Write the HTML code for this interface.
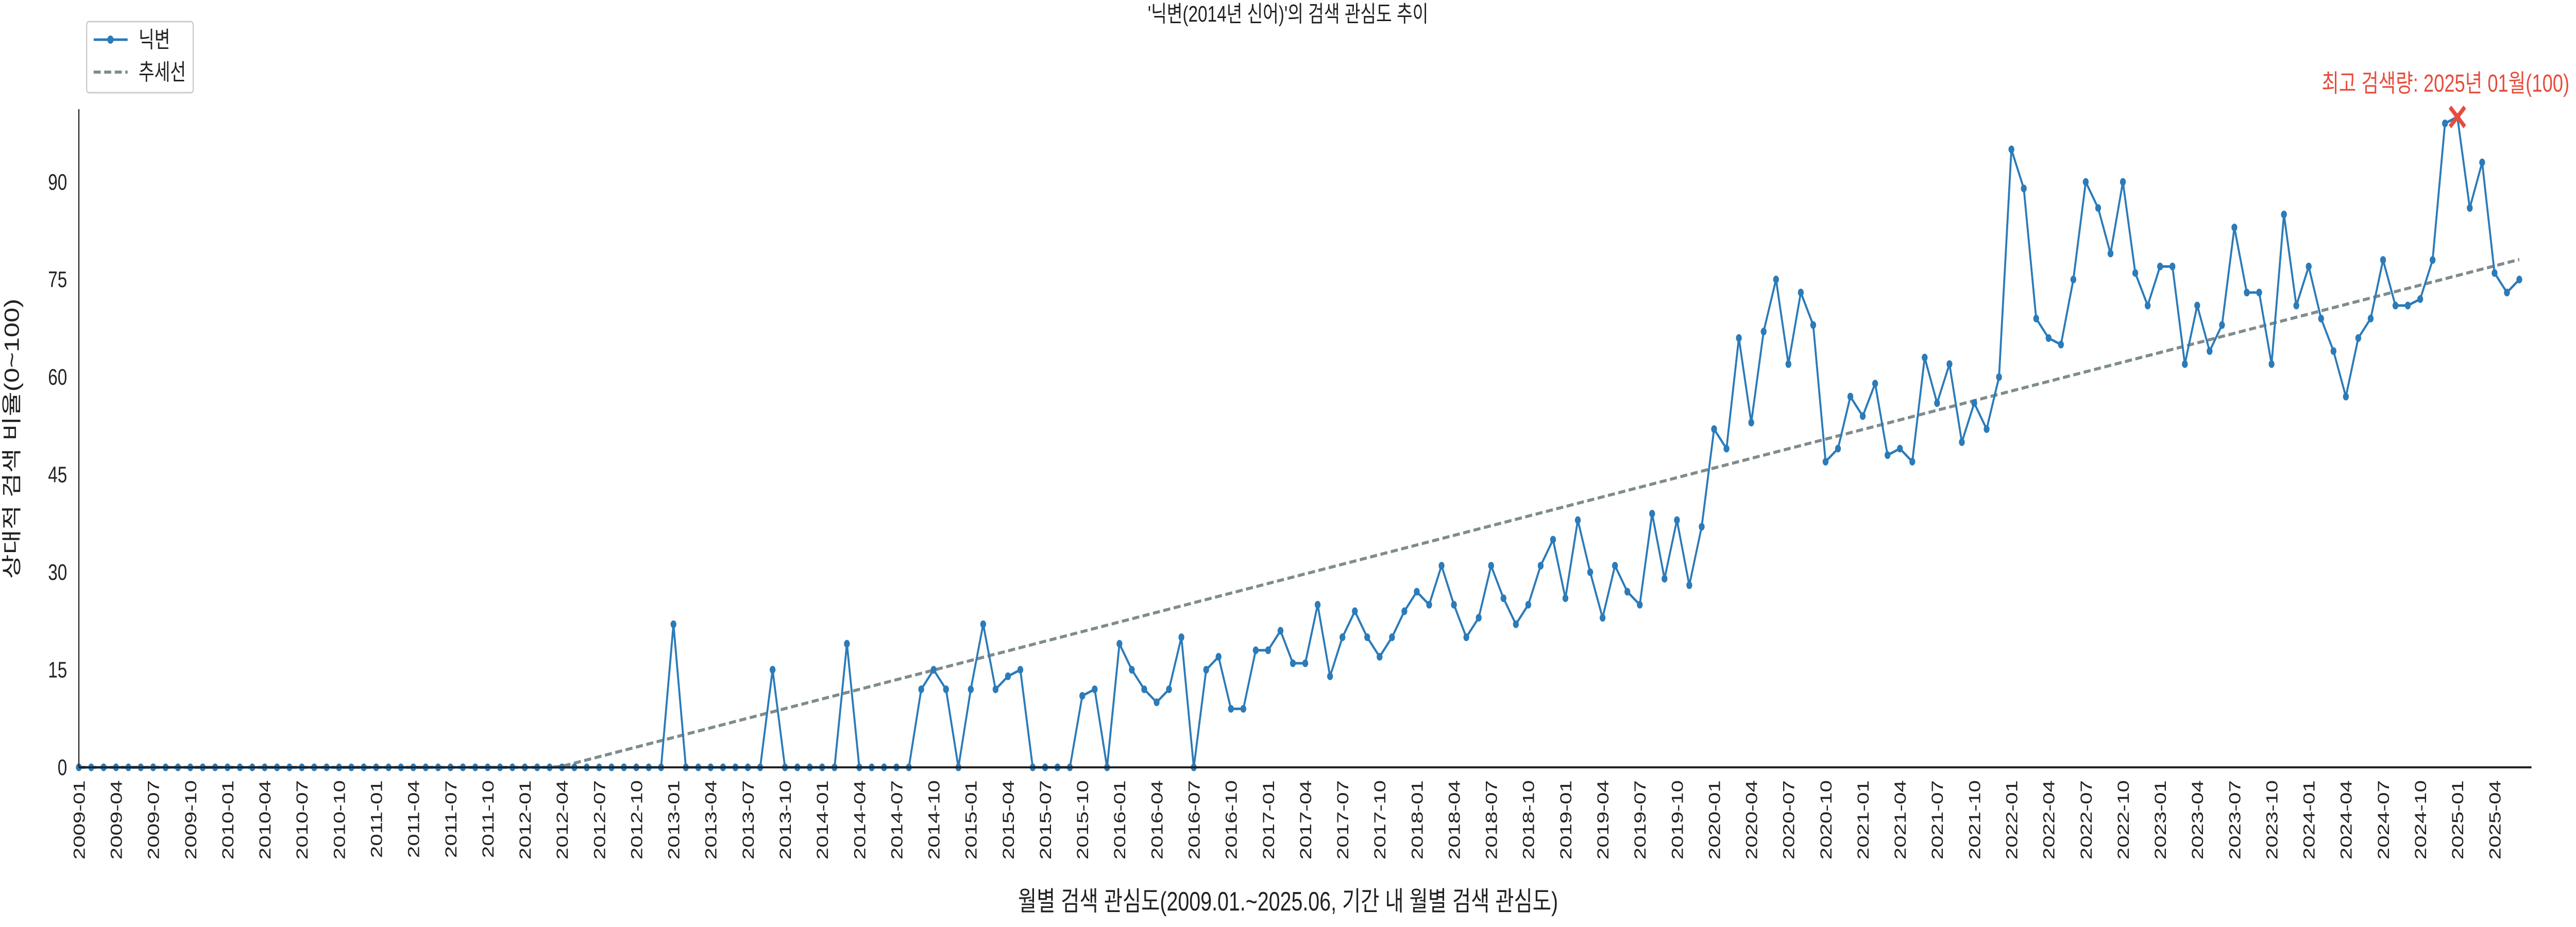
<!DOCTYPE html>
<html><head><meta charset="utf-8">
<style>
html,body{margin:0;padding:0;background:#fff;width:100%;height:100%;overflow:hidden;}
svg{display:block;width:100vw;height:100vh;font-family:"Liberation Sans","Noto Sans CJK KR",sans-serif;}
</style></head>
<body>
<svg id="chart" viewBox="0 0 6600 1800" preserveAspectRatio="none" xmlns="http://www.w3.org/2000/svg">
<text x="3300" y="42" text-anchor="middle" font-size="44" fill="#222">'닉변(2014년 신어)'의 검색 관심도 추이</text>
<g id="grid"></g>
<g id="trend"></g>
<g id="series"></g>
<g id="axes"></g>
<text x="3300" y="1768" text-anchor="middle" font-size="52" fill="#222">월별 검색 관심도(2009.01.~2025.06, 기간 내 월별 검색 관심도)</text>
<text transform="translate(48,852) rotate(-90)" text-anchor="middle" font-size="52" fill="#222">상대적 검색 비율(0~100)</text>
<g>
<rect x="222" y="42" width="273" height="138" rx="6" fill="#fff" stroke="#ccc" stroke-width="3"/>
<line x1="240" y1="77" x2="327" y2="77" stroke="#2b7bb9" stroke-width="5"/>
<circle cx="283" cy="77" r="8" fill="#2b7bb9"/>
<text x="355" y="92" font-size="44" fill="#222">닉변</text>
<line x1="240" y1="140" x2="327" y2="140" stroke="#7f8c8d" stroke-width="6" stroke-dasharray="18,9"/>
<text x="355" y="155" font-size="44" fill="#222">추세선</text>
</g>
<text x="6583" y="178" text-anchor="end" font-size="48" fill="#e74c3c">최고 검색량: 2025년 01월(100)</text>
</svg>
<script>
const startYear = 2009;
const values = [
0,0,0,0,0,0,0,0,0,0,0,0,
0,0,0,0,0,0,0,0,0,0,0,0,
0,0,0,0,0,0,0,0,0,0,0,0,
0,0,0,0,0,0,0,0,0,0,0,0,
22,0,0,0,0,0,0,0,15,0,0,0,
0,0,19,0,0,0,0,0,12,15,12,0,
12,22,12,14,15,0,0,0,0,11,12,0,
19,15,12,10,12,20,0,15,17,9,9,18,
18,21,16,16,25,14,20,24,20,17,20,24,
27,25,31,25,20,23,31,26,22,25,31,35,
26,38,30,23,31,27,25,39,29,38,28,37,
52,49,66,53,67,75,62,73,68,47,49,57,
54,59,48,49,47,63,56,62,50,56,52,60,
95,89,69,66,65,75,90,86,79,90,76,71,
77,77,62,71,64,68,83,73,73,62,85,71,
77,69,64,57,66,69,78,71,71,72,78,99,
100,86,93,76,73,75
];
const yTicks = [0,15,30,45,60,75,90];

const NS="http://www.w3.org/2000/svg";
const X0=202, DX=31.74, Y0=1490, DY=12.63, TOP=212, RIGHT=6486;
function xs(i){return X0+i*DX;}
function ys(v){return Y0-v*DY;}
function el(tag,attrs,parent){const e=document.createElementNS(NS,tag);for(const k in attrs)e.setAttribute(k,attrs[k]);parent.appendChild(e);return e;}
const n=values.length;
const axes=document.getElementById('axes');
const ax=el('line',{x1:X0,y1:Y0,x2:RIGHT,y2:Y0,stroke:'#222','stroke-width':4},axes);


const ay=el('line',{x1:X0,y1:Y0,x2:X0,y2:TOP,stroke:'#222','stroke-width':3},axes);


yTicks.forEach(t=>{
  const tx=el('text',{x:172,y:ys(t)+15,'text-anchor':'end','font-size':44,fill:'#222'},axes);
  tx.textContent=t;
  
  
});
for(let i=0;i<n;i+=3){
  const yr=startYear+Math.floor(i/12), m=(i%12)+1;
  const lab=yr+'-'+(m<10?'0':'')+m;
  const tx=el('text',{transform:`translate(${xs(i)+15},1515) rotate(-90)`,'text-anchor':'end','font-size':42,fill:'#222'},axes);
  tx.textContent=lab;
  
  
}
let sx=0,sy=0,sxx=0,sxy=0;
for(let i=0;i<n;i++){sx+=i;sy+=values[i];sxx+=i*i;sxy+=i*values[i];}
const b=(n*sxy-sx*sy)/(n*sxx-sx*sx), a=(sy-b*sx)/n;
let tp=[];
for(let i=0;i<n;i++){tp.push(xs(i)+','+ys(Math.max(0,a+b*i)));}
const tl=el('polyline',{points:tp.join(' '),fill:'none',stroke:'#7f8c8d','stroke-width':6,'stroke-dasharray':'18,9'},document.getElementById('trend'));


const sg=document.getElementById('series');
const pts=values.map((v,i)=>xs(i)+','+ys(v)).join(' ');
const pl=el('polyline',{points:pts,fill:'none',stroke:'#2b7bb9','stroke-width':5,'stroke-linejoin':'round'},sg);


let pk=0;
values.forEach((v,i)=>{
  if(v>values[pk])pk=i;
  const c=el('circle',{cx:xs(i),cy:ys(v),r:7.5,fill:'#2b7bb9'},sg);
  
  
});
const px=xs(pk), py=ys(values[pk]), s=19;
const mk=el('path',{d:`M${px-s},${py-s}L${px+s},${py+s}M${px-s},${py+s}L${px+s},${py-s}`,stroke:'#e74c3c','stroke-width':9},sg);


</script>
</body></html>
